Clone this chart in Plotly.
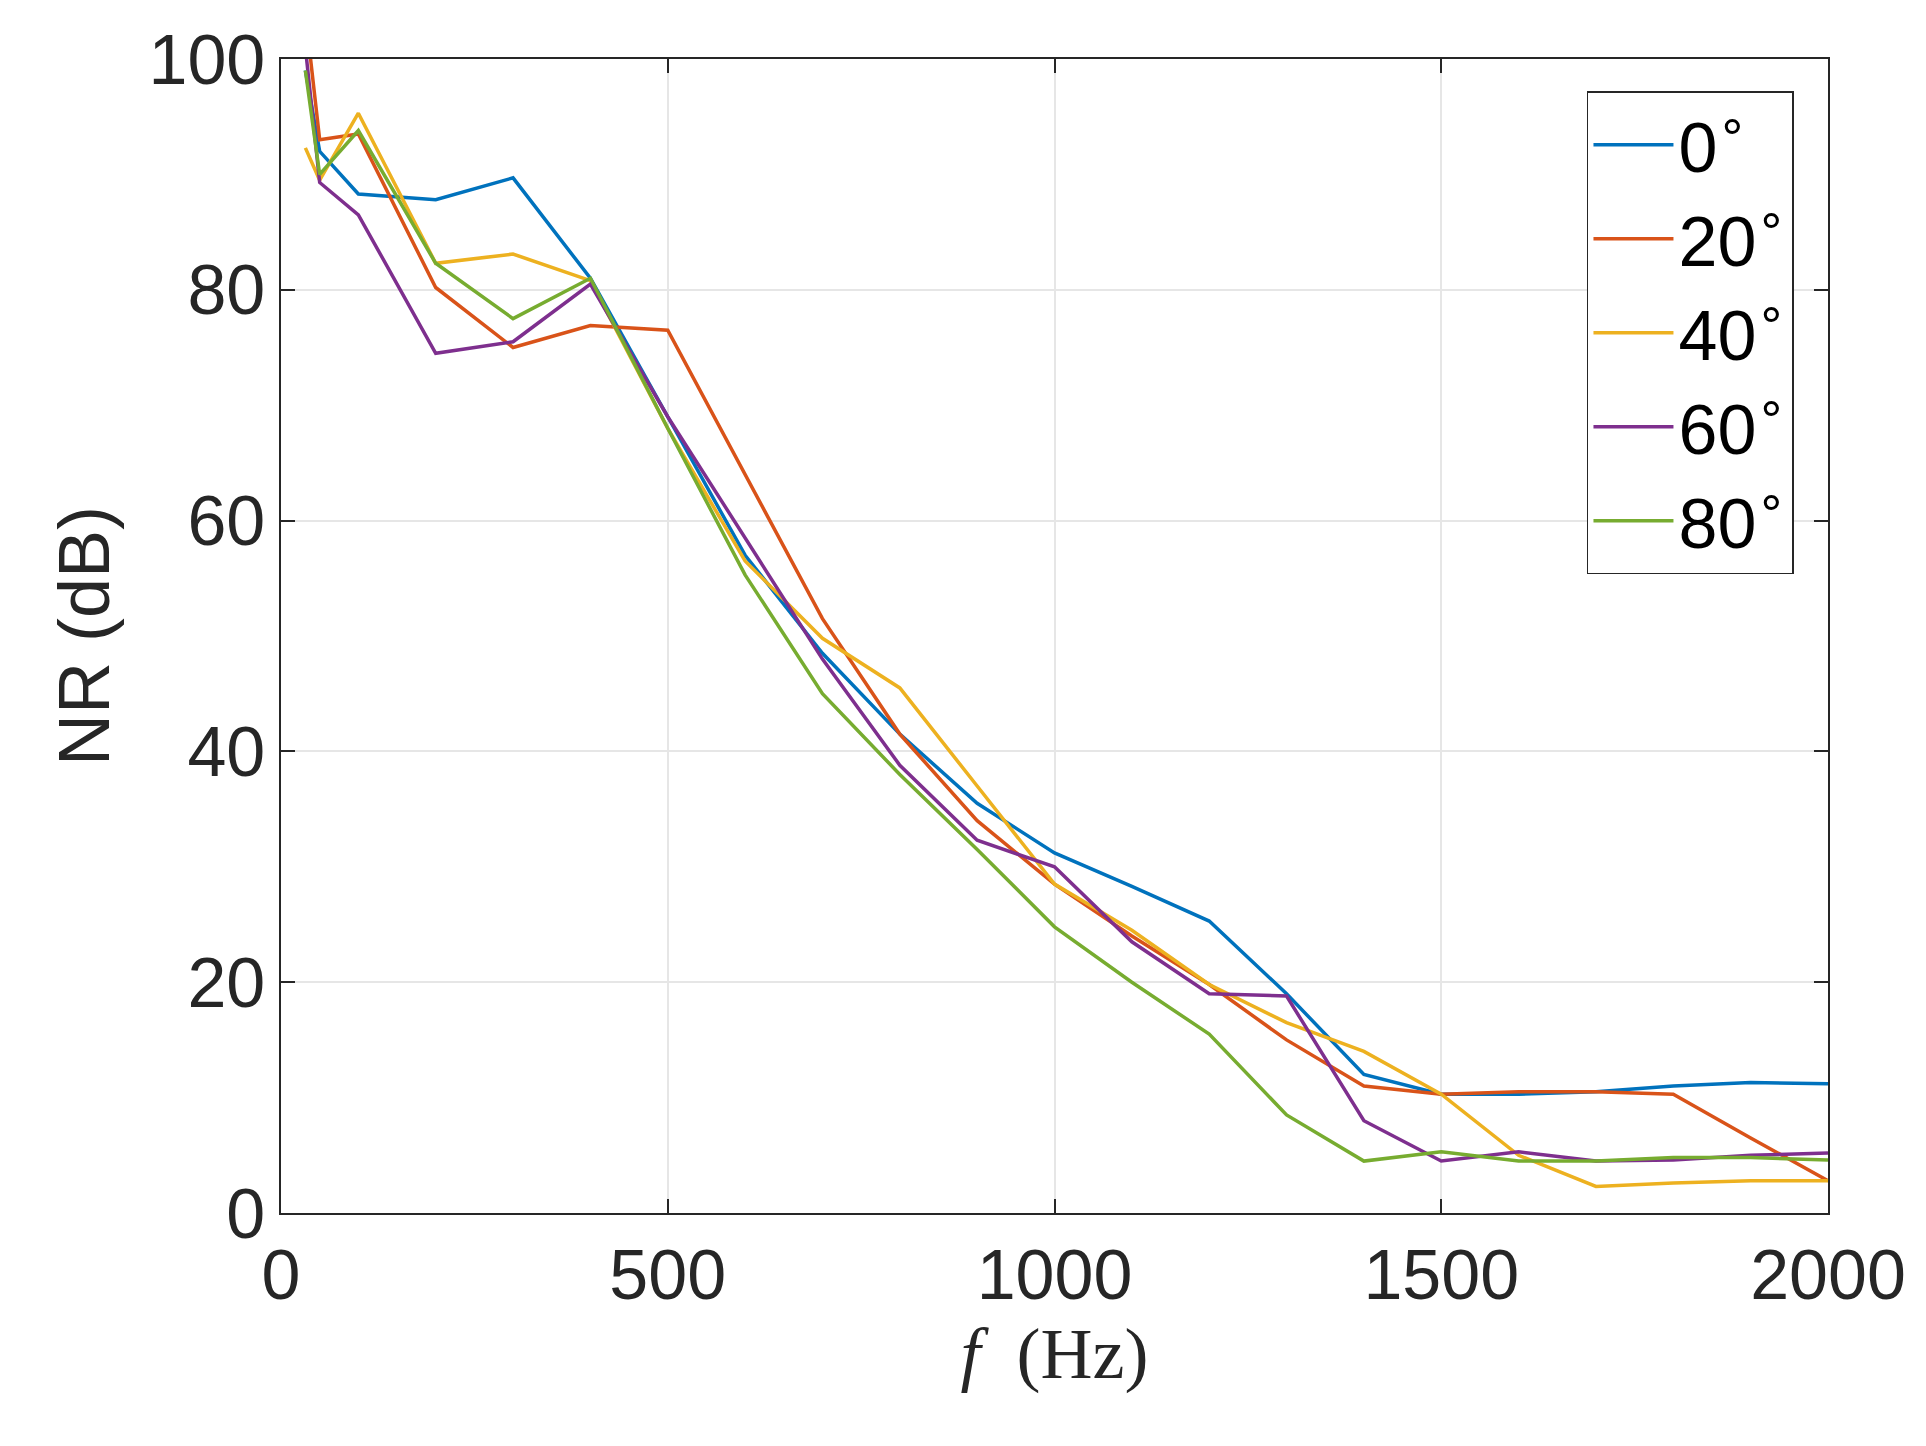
import plotly.graph_objects as go

freq = [31.5, 50, 100, 200, 300, 400, 500, 600, 700, 800, 900, 1000, 1100, 1200, 1300, 1400, 1500, 1600, 1700, 1800, 1900, 2000]
nr_0 = [99, 92, 88.3, 87.8, 89.7, 81, 69, 57, 48.5, 41.5, 35.5, 31.2, 28.3, 25.3, 19, 12, 10.3, 10.3, 10.5, 11, 11.3, 11.2]
nr_20 = [104, 93, 93.5, 80.2, 75, 76.9, 76.5, 64, 51.5, 41.5, 34, 28.5, 24, 19.8, 15, 11, 10.3, 10.5, 10.5, 10.3, 6.5, 2.8]
nr_40 = [92.3, 89.5, 95.3, 82.3, 83.1, 80.8, 68, 56.5, 49.8, 45.5, 37, 28.5, 24.5, 19.8, 16.5, 14, 10.3, 5, 2.3, 2.6, 2.8, 2.8]
nr_60 = [101, 89.3, 86.5, 74.5, 75.5, 80.5, 69, 58.5, 48, 38.8, 32.3, 30, 23.5, 19, 18.8, 8, 4.5, 5.3, 4.5, 4.6, 5, 5.2]
nr_80 = [99, 90, 93.8, 82.3, 77.5, 81, 68, 55.3, 45, 38, 31.5, 24.8, 20, 15.5, 8.5, 4.5, 5.3, 4.5, 4.5, 4.8, 4.8, 4.6]
labels = ["0<sup>∘</sup>", "20<sup>∘</sup>", "40<sup>∘</sup>", "60<sup>∘</sup>", "80<sup>∘</sup>"]
colors = ["#0072BD", "#D95319", "#EDB120", "#7E2F8E", "#77AC30"]

fig = go.Figure()
for ys, lab, c in zip([nr_0, nr_20, nr_40, nr_60, nr_80], labels, colors):
    fig.add_trace(go.Scatter(x=freq, y=ys, mode="lines", name=lab, line=dict(color=c, width=3.5)))

axis_common = dict(showline=True, linecolor="#262626", linewidth=1.5, mirror="ticks", ticks="inside",
                   ticklen=14, tickwidth=1.5, tickcolor="#262626", showgrid=True, gridcolor="#e6e6e6",
                   gridwidth=1.5, zeroline=False, tickfont=dict(size=70, color="#262626", family="Liberation Sans"))
fig.update_xaxes(range=[0, 2000], tickvals=[0, 500, 1000, 1500, 2000], **axis_common,
                 title=dict(text="<i>f</i>  (Hz)", font=dict(size=72, family="Liberation Serif", color="#262626"), standoff=10))
fig.update_yaxes(range=[0, 100], tickvals=[0, 20, 40, 60, 80, 100], **axis_common,
                 title=dict(text="NR (dB)", font=dict(size=72, family="Liberation Sans", color="#262626"), standoff=15))
fig.update_layout(width=1926, height=1446, plot_bgcolor="white", paper_bgcolor="white",
                  margin=dict(l=273, r=106, t=47, b=241),
                  legend=dict(x=0.978, y=0.972, xanchor="right", yanchor="top", bgcolor="white",
                              bordercolor="#262626", borderwidth=1.5,
                              font=dict(size=70, family="Liberation Sans", color="black"),
                              itemwidth=80, tracegroupgap=18))
fig.write_html("out.html")
